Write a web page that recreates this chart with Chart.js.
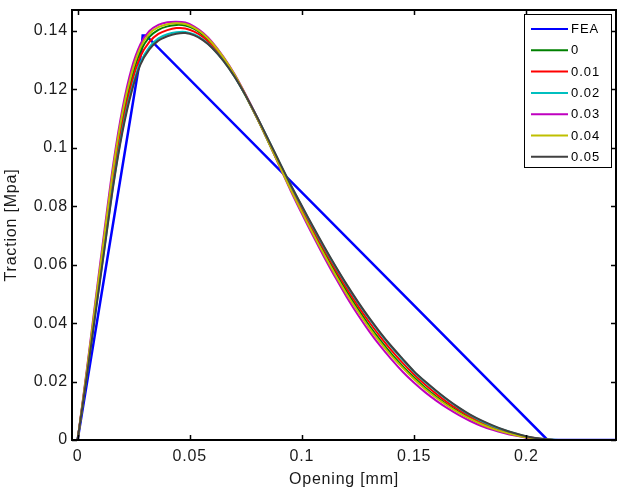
<!DOCTYPE html>
<html><head><meta charset="utf-8">
<script src="https://cdn.jsdelivr.net/npm/chart.js@4.4.1/dist/chart.umd.min.js"></script>
<style>html,body{margin:0;padding:0;background:#fff;}#wrap{width:618px;height:490px;}</style>
</head><body><div id="wrap"><canvas id="c" width="618" height="490"></canvas></div>
<script>
// ---- data ----
const openingMm = [0, 0.004, 0.008, 0.012, 0.016, 0.020, 0.024, 0.028, 0.032, 0.036, 0.040, 0.044, 0.048, 0.052, 0.056, 0.060, 0.065, 0.070, 0.075, 0.080, 0.085, 0.090, 0.095, 0.100, 0.105, 0.110, 0.115, 0.120, 0.125, 0.130, 0.135, 0.140, 0.145, 0.150, 0.155, 0.160, 0.165, 0.170, 0.175, 0.180, 0.185, 0.190, 0.195, 0.200, 0.205, 0.210, 0.215, 0.240];
const feaOpening = [0, 0.0285, 0.029, 0.0305, 0.2095, 0.24];
const feaTraction = [0, 0.1335, 0.1385, 0.1385, 0, 0];
const traction_0 = [0, 0.0225, 0.046, 0.069, 0.092, 0.110, 0.1235, 0.1330, 0.1380, 0.1404, 0.1416, 0.1421, 0.1419, 0.1407, 0.1386, 0.1356, 0.1307, 0.1247, 0.1177, 0.1101, 0.1021, 0.0940, 0.0860, 0.0785, 0.0712, 0.0641, 0.0573, 0.0508, 0.0448, 0.0392, 0.0341, 0.0294, 0.0252, 0.0214, 0.0179, 0.0148, 0.0120, 0.0096, 0.0074, 0.0056, 0.0041, 0.0028, 0.0018, 0.0010, 0.0004, 0.0001, 0, 0];
const traction_001 = [0, 0.022, 0.045, 0.0675, 0.090, 0.108, 0.1218, 0.1313, 0.1363, 0.1390, 0.1403, 0.1410, 0.1409, 0.1398, 0.1379, 0.1350, 0.1303, 0.1246, 0.1178, 0.1103, 0.1025, 0.0945, 0.0866, 0.0792, 0.0720, 0.0650, 0.0583, 0.0519, 0.0459, 0.0404, 0.0353, 0.0306, 0.0263, 0.0224, 0.0189, 0.0157, 0.0128, 0.0103, 0.0080, 0.0061, 0.0045, 0.0031, 0.0020, 0.0011, 0.0005, 0.0001, 0, 0];
const traction_002 = [0, 0.0215, 0.044, 0.066, 0.088, 0.1062, 0.1198, 0.1293, 0.1345, 0.1375, 0.1389, 0.1396, 0.1397, 0.1388, 0.1370, 0.1343, 0.1299, 0.1244, 0.1178, 0.1105, 0.1028, 0.0949, 0.0872, 0.0799, 0.0727, 0.0658, 0.0592, 0.0529, 0.0470, 0.0415, 0.0364, 0.0317, 0.0274, 0.0233, 0.0198, 0.0166, 0.0136, 0.0109, 0.0085, 0.0065, 0.0048, 0.0034, 0.0022, 0.0012, 0.0005, 0.0002, 0, 0];
const traction_003 = [0, 0.0235, 0.048, 0.072, 0.095, 0.1135, 0.127, 0.1355, 0.1400, 0.1421, 0.1430, 0.1432, 0.1429, 0.1415, 0.1393, 0.1362, 0.1312, 0.1252, 0.1181, 0.1104, 0.1022, 0.0937, 0.0853, 0.0774, 0.0698, 0.0625, 0.0555, 0.0489, 0.0428, 0.0372, 0.0321, 0.0275, 0.0233, 0.0196, 0.0163, 0.0134, 0.0108, 0.0085, 0.0065, 0.0048, 0.0035, 0.0024, 0.0015, 0.0008, 0.0003, 0.0001, 0, 0];
const traction_004 = [0, 0.023, 0.047, 0.0705, 0.0935, 0.112, 0.1253, 0.1343, 0.1391, 0.1413, 0.1423, 0.1427, 0.1424, 0.1411, 0.1390, 0.1359, 0.1310, 0.1250, 0.1179, 0.1103, 0.1022, 0.0939, 0.0857, 0.0780, 0.0705, 0.0633, 0.0564, 0.0499, 0.0440, 0.0384, 0.0333, 0.0287, 0.0246, 0.0208, 0.0174, 0.0144, 0.0117, 0.0093, 0.0072, 0.0054, 0.0039, 0.0027, 0.0017, 0.0009, 0.0004, 0.0001, 0, 0];
const traction_005 = [0, 0.0212, 0.0435, 0.0655, 0.0875, 0.1055, 0.1190, 0.1285, 0.1337, 0.1367, 0.1382, 0.1391, 0.1393, 0.1385, 0.1368, 0.1342, 0.1298, 0.1243, 0.1178, 0.1106, 0.1029, 0.0951, 0.0874, 0.0801, 0.0730, 0.0661, 0.0595, 0.0532, 0.0473, 0.0418, 0.0367, 0.0320, 0.0277, 0.0235, 0.0200, 0.0168, 0.0138, 0.0111, 0.0087, 0.0067, 0.0050, 0.0035, 0.0023, 0.0013, 0.0006, 0.0002, 0, 0];
const seriesLabels = ['FEA', '0', '0.01', '0.02', '0.03', '0.04', '0.05'];
const seriesColors = ['#0000FF', '#008000', '#FF0000', '#00BFBF', '#BF00BF', '#BFBF00', '#404040'];
const xTicks = [0, 0.05, 0.1, 0.15, 0.2];
const yTicks = [0, 0.02, 0.04, 0.06, 0.08, 0.1, 0.12, 0.14];
const xTitle = 'Opening [mm]';
const yTitle = 'Traction [Mpa]';

const FONT = "'Liberation Sans', Arial, sans-serif";
const toPts = (xs, ys) => xs.map((x, i) => ({x: x, y: ys[i]}));
const curveSets = [traction_0, traction_001, traction_002, traction_003, traction_004, traction_005];
const datasets = [{
  label: seriesLabels[0], data: toPts(feaOpening, feaTraction),
  borderColor: seriesColors[0], borderWidth: 2.5, pointRadius: 0, tension: 0, order: 6
}].concat(curveSets.map((ys, i) => ({
  label: seriesLabels[i + 1], data: toPts(openingMm, ys),
  borderColor: seriesColors[i + 1], borderWidth: 2, pointRadius: 0,
  tension: 0.3, order: 5 - i
})));

const frame = {
  id: 'frame',
  beforeDraw(chart) { chart.ctx.letterSpacing = '0.8px'; },
  afterDatasetsDraw(chart) {
    const {ctx, chartArea: a, scales: {x, y}} = chart;
    ctx.save();
    ctx.strokeStyle = '#000';
    ctx.lineWidth = 1.5;
    const tl = 5;
    ctx.beginPath();
    xTicks.forEach(v => { const px = Math.round(x.getPixelForValue(v)) + 0.5;
      ctx.moveTo(px, a.bottom); ctx.lineTo(px, a.bottom - tl);
      ctx.moveTo(px, a.top); ctx.lineTo(px, a.top + tl); });
    yTicks.forEach(v => { const py = Math.round(y.getPixelForValue(v)) + 0.5;
      ctx.moveTo(a.left, py); ctx.lineTo(a.left + tl, py);
      ctx.moveTo(a.right, py); ctx.lineTo(a.right - tl, py); });
    ctx.stroke();
    ctx.lineWidth = 2;
    ctx.strokeRect(a.left, a.top, a.right - a.left, a.bottom - a.top);
    ctx.restore();
  },
  afterDraw(chart) {
    const ctx = chart.ctx;
    const L = 524.5, T = 14.5, R = 611.5, B = 167.5;
    ctx.save();
    ctx.fillStyle = '#fff';
    ctx.fillRect(L, T, R - L, B - T);
    ctx.strokeStyle = '#000'; ctx.lineWidth = 1;
    ctx.strokeRect(L, T, R - L, B - T);
    ctx.font = '13px ' + FONT;
    ctx.letterSpacing = '1px';
    ctx.textBaseline = 'middle'; ctx.textAlign = 'left';
    chart.data.datasets.forEach((ds, i) => {
      const yy = 29 + i * 21.3;
      ctx.strokeStyle = ds.borderColor; ctx.lineWidth = 2;
      ctx.beginPath(); ctx.moveTo(531, yy); ctx.lineTo(568, yy); ctx.stroke();
      ctx.fillStyle = '#000';
      ctx.fillText(ds.label, 571, yy + 0.5);
    });
    ctx.restore();
  }
};

new Chart(document.getElementById('c'), {
  type: 'scatter',
  data: {datasets: datasets},
  options: {
    responsive: false, animation: false, devicePixelRatio: 1,
    showLine: true,
    layout: {padding: {left: 0, top: 10, right: 2, bottom: 0}},
    plugins: {legend: {display: false}, tooltip: {enabled: false}},
    scales: {
      x: {
        type: 'linear', min: -0.0025, max: 0.24,
        afterBuildTicks(s) { s.ticks = xTicks.map(v => ({value: v})); },
        afterFit(s) { s.height = 50; s.paddingLeft = 0; s.paddingRight = 0; },
        grid: {display: false, drawTicks: false}, border: {display: false},
        ticks: {font: {family: FONT, size: 16}, color: '#1a1a1a', padding: 7, maxRotation: 0, autoSkip: false, callback: v => String(v)},
        title: {display: true, text: xTitle, font: {family: FONT, size: 16}, color: '#1a1a1a', padding: {top: 0, bottom: 1}}
      },
      y: {
        type: 'linear', min: 0, max: 0.1472,
        afterBuildTicks(s) { s.ticks = yTicks.map(v => ({value: v})); },
        afterFit(s) { s.width = 72; s.paddingTop = 0; s.paddingBottom = 0; },
        grid: {display: false, drawTicks: false}, border: {display: false},
        ticks: {font: {family: FONT, size: 16}, color: '#1a1a1a', padding: 4, autoSkip: false, callback: v => String(v)},
        title: {display: true, text: yTitle, font: {family: FONT, size: 16}, color: '#1a1a1a', padding: {top: 2, bottom: 0}}
      }
    }
  },
  plugins: [frame]
});
</script>
</body></html>
